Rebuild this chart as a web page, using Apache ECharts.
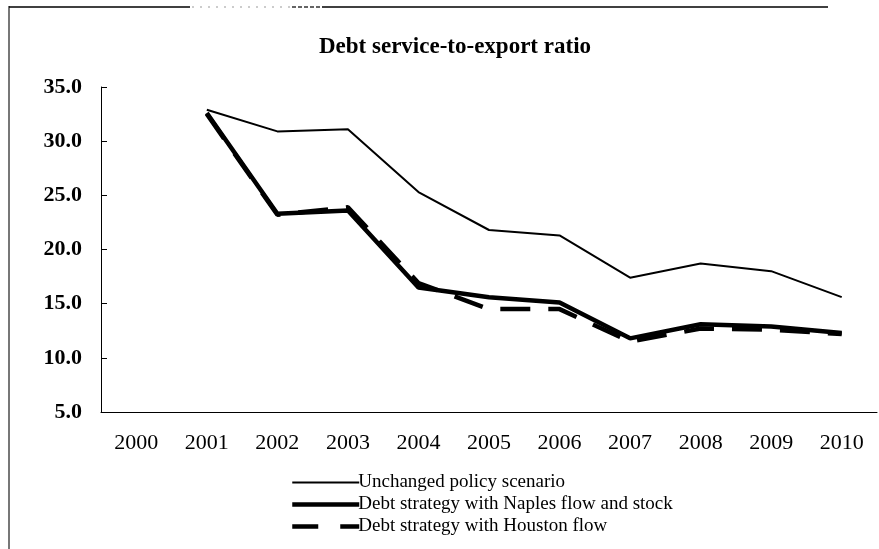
<!DOCTYPE html>
<html>
<head>
<meta charset="utf-8">
<style>
  html, body { margin: 0; padding: 0; background: #fff; }
  #chart { width: 879px; height: 549px; }
</style>
<script src="https://cdn.jsdelivr.net/npm/echarts@6/dist/echarts.min.js"></script>
</head>
<body>
<div id="chart"></div>
<script>
// Debt service-to-export ratio, 2000-2010, three scenarios
const years = ['2000', '2001', '2002', '2003', '2004', '2005', '2006', '2007', '2008', '2009', '2010'];
const unchangedPolicy = [null, 32.9, 30.9, 31.1, 25.3, 21.8, 21.3, 17.4, 18.7, 18.0, 15.6];
const naplesFlowStock = [null, 32.6, 23.3, 23.6, 16.5, 15.6, 15.1, 11.8, 13.1, 12.9, 12.3];
const houstonFlow     = [null, 32.5, 23.2, 23.9, 16.9, 14.5, 14.5, 11.5, 12.7, 12.6, 12.2];
const seriesNames = [
  'Unchanged policy scenario',
  'Debt strategy with Naples flow and stock',
  'Debt strategy with Houston flow'
];
const yTicks = { min: 5, max: 35, step: 5 };

const serif = '"Liberation Serif", "Times New Roman", serif';
const chart = echarts.init(document.getElementById('chart'), null, { renderer: 'canvas' });

chart.setOption({
  backgroundColor: '#ffffff',
  animation: false,
  title: {
    text: 'Debt service-to-export ratio',
    left: 450,
    top: 31,
    textAlign: 'center',
    textStyle: { fontFamily: serif, fontWeight: 'bold', fontSize: 23, color: '#000' }
  },
  legend: {
    orient: 'vertical',
    left: 290,
    top: 472,
    padding: 0,
    itemWidth: 67,
    itemHeight: 14,
    itemGap: 1,
    itemStyle: { opacity: 0 },
    textStyle: { fontFamily: serif, fontSize: 19, lineHeight: 21, color: '#000', padding: [0, 0, 0, -6] },
    data: [
      { name: seriesNames[0], lineStyle: { width: 2, type: 'solid', color: '#000', opacity: 1 } },
      { name: seriesNames[1], lineStyle: { width: 4.5, type: 'solid', color: '#000', opacity: 1 } },
      { name: seriesNames[2], lineStyle: { width: 4.5, type: [26, 22], color: '#000', opacity: 1 } }
    ]
  },
  grid: { left: 101, right: 2, top: 87, bottom: 137 },
  xAxis: {
    type: 'category',
    data: years,
    boundaryGap: true,
    axisLine: { lineStyle: { color: '#000', width: 1 } },
    axisTick: { inside: true, length: 7, lineStyle: { color: '#000' } },
    axisLabel: { fontFamily: serif, fontSize: 22, color: '#000', margin: 20 },
    splitLine: { show: false }
  },
  yAxis: {
    type: 'value',
    min: yTicks.min,
    max: yTicks.max,
    interval: yTicks.step,
    axisLine: { show: true, lineStyle: { color: '#000', width: 1 } },
    axisTick: { show: true, inside: true, length: 6, lineStyle: { color: '#000' } },
    axisLabel: {
      fontFamily: serif, fontSize: 22, fontWeight: 'bold', color: '#000', margin: 19,
      formatter: v => v.toFixed(1)
    },
    splitLine: { show: false }
  },
  series: [
    {
      name: seriesNames[0], type: 'line', data: unchangedPolicy,
      symbol: 'none', color: '#000',
      lineStyle: { width: 2, color: '#000' }, z: 3
    },
    {
      name: seriesNames[1], type: 'line', data: naplesFlowStock,
      symbol: 'none', color: '#000',
      lineStyle: { width: 4.5, color: '#000' }, z: 2
    },
    {
      name: seriesNames[2], type: 'line', data: houstonFlow,
      symbol: 'none', color: '#000',
      lineStyle: { width: 4.5, color: '#000', type: [30, 18] }, z: 2
    }
  ],
  graphic: [
    // page frame: left rule and broken top rule
    { type: 'line', shape: { x1: 9, y1: 6, x2: 9, y2: 549 }, style: { stroke: '#777', lineWidth: 2 } },
    { type: 'line', shape: { x1: 9, y1: 7, x2: 190, y2: 7 }, style: { stroke: '#000', lineWidth: 1.5 } },
    { type: 'line', shape: { x1: 192, y1: 7, x2: 290, y2: 7 }, style: { stroke: '#999', lineWidth: 1, lineDash: [2, 6] } },
    { type: 'line', shape: { x1: 292, y1: 7, x2: 322, y2: 7 }, style: { stroke: '#333', lineWidth: 1.5, lineDash: [4, 2] } },
    { type: 'line', shape: { x1: 322, y1: 7, x2: 828, y2: 7 }, style: { stroke: '#000', lineWidth: 1.5 } }
  ]
});
</script>
</body>
</html>
